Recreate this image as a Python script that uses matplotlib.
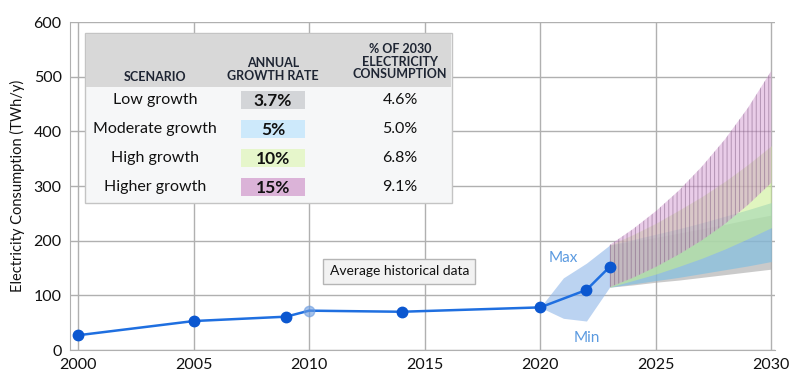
import matplotlib.pyplot as plt
from matplotlib.patches import Rectangle

plt.rcParams['font.family'] = ['Lato', 'DejaVu Sans']
plt.rcParams['hatch.linewidth'] = 0.7

# historical data
hist_years = [2000, 2005, 2009, 2010, 2014, 2020, 2022, 2023]
hist_vals = [27, 53, 61, 72, 70, 78, 110, 152]

# max / min envelope around recent data
env_years = [2020, 2021, 2022, 2023]
env_max = [78, 132, 159, 192]
env_min = [78, 58, 53, 115]

# scenario projections (upper / lower bound, TWh/y)
proj_years = [2023, 2024, 2025, 2026, 2027, 2028, 2029, 2030]
low_hi = [192, 199, 206, 214, 222, 230, 239, 247]
low_lo = [115, 119, 124, 128, 133, 138, 143, 148]
mod_hi = [192, 202, 212, 222, 233, 245, 257, 270]
mod_lo = [115, 121, 127, 133, 140, 147, 154, 162]
high_hi = [192, 211, 232, 256, 281, 309, 340, 374]
high_lo = [115, 127, 139, 153, 168, 185, 204, 224]
higher_hi = [192, 221, 254, 292, 336, 386, 444, 511]
higher_lo = [115, 132, 152, 175, 201, 231, 266, 306]

scenarios = ['Low growth', 'Moderate growth', 'High growth', 'Higher growth']
rates = ['3.7%', '5%', '10%', '15%']
shares = ['4.6%', '5.0%', '6.8%', '9.1%']
rate_colors = ['#d3d5d8', '#cde9fb', '#e6f6cb', '#dbb3d8']

fig = plt.figure(figsize=(8, 3.87), dpi=100)
ax = fig.add_axes([0.0875, 0.0956, 0.881, 0.847])

ax.fill_between(proj_years, low_lo, low_hi, color='#a8a8a8', alpha=0.6, lw=0, zorder=2)
ax.fill_between(proj_years, mod_lo, mod_hi, color='#78bde4', alpha=0.6, lw=0, zorder=2)
ax.fill_between(proj_years, high_lo, high_hi, color='#c8ee8c', alpha=0.55, lw=0, zorder=2)
ax.fill_between(proj_years, higher_lo, higher_hi, facecolor='#d49ad2', alpha=0.5,
                edgecolor='#7d5a80', hatch='||||', lw=0, zorder=2)

ax.fill_between(env_years, env_min, env_max, color='#8fb6e8', alpha=0.6, lw=0, zorder=3)

ax.plot(hist_years, hist_vals, color='#1f6fe0', lw=1.8, zorder=4)
ax.plot([y for y in hist_years if y != 2010], [v for y, v in zip(hist_years, hist_vals) if y != 2010],
        'o', color='#0b57d0', ms=7.5, zorder=5)
ax.plot([2010], [72], 'o', color='#6a9be0', ms=7.5, alpha=0.6, zorder=5)

ax.text(2021.0, 168, 'Max', color='#5b9ae0', fontsize=11, ha='center', va='center', zorder=6)
ax.text(2022.0, 22, 'Min', color='#5b9ae0', fontsize=11, ha='center', va='center', zorder=6)
ax.text(2013.9, 144, 'Average historical data', fontsize=10, ha='center', va='center', color='#111111',
        bbox=dict(boxstyle='square,pad=0.45', fc='#f2f2f2', ec='#b5b5b5', lw=1), zorder=6)

ax.set_xlim(1999.65, 2030.15)
ax.set_ylim(0, 600)
ax.set_xticks([2000, 2005, 2010, 2015, 2020, 2025, 2030])
ax.set_yticks([0, 100, 200, 300, 400, 500, 600])
ax.tick_params(length=0, labelsize=11.5, pad=6, colors='#111111')
ax.grid(True, color='#b0b0b0', lw=1)
ax.set_axisbelow(True)
for s in ax.spines.values():
    s.set_visible(False)
ax.spines['left'].set_visible(True)
ax.spines['bottom'].set_visible(True)
ax.spines['left'].set_color('#b0b0b0')
ax.spines['bottom'].set_color('#b0b0b0')
ax.set_ylabel('Electricity Consumption (TWh/y)', fontsize=10.5, color='#111111', labelpad=6)


# table in pixel coordinates
def fx(x):
    return x / 800


def fy(y):
    return 1 - y / 387


fig.patches.append(Rectangle((fx(85), fy(203)), fx(452) - fx(85), fy(33) - fy(203),
                             transform=fig.transFigure, fc='#f6f7f8', ec='#c4c4c4', lw=1, zorder=10))
fig.patches.append(Rectangle((fx(86), fy(87)), fx(451) - fx(86), fy(34) - fy(87),
                             transform=fig.transFigure, fc='#d8d8d8', ec='none', zorder=11))

hdr = dict(fontsize=9, fontweight='bold', color='#1e2533', ha='center', va='center', zorder=12)
fig.text(fx(155), fy(77), 'SCENARIO', **hdr)
fig.text(fx(273), fy(69.5), 'ANNUAL\nGROWTH RATE', linespacing=1.05, **hdr)
fig.text(fx(400), fy(61.5), '% OF 2030\nELECTRICITY\nCONSUMPTION', linespacing=1.05, **hdr)

row_y = [100, 129, 158, 187]
for i in range(len(scenarios)):
    y = row_y[i]
    fig.text(fx(155), fy(y), scenarios[i], fontsize=11.5, color='#111111',
             ha='center', va='center', zorder=12)
    fig.patches.append(Rectangle((fx(241), fy(y + 9)), fx(305) - fx(241), fy(y - 9) - fy(y + 9),
                                 transform=fig.transFigure, fc=rate_colors[i], ec='none', zorder=11))
    fig.text(fx(273), fy(y + 1), rates[i], fontsize=12.5, fontweight='bold', color='#111111',
             ha='center', va='center', zorder=12)
    fig.text(fx(400), fy(y), shares[i], fontsize=11.5, color='#111111',
             ha='center', va='center', zorder=12)

fig.savefig('out.png', dpi=100)
